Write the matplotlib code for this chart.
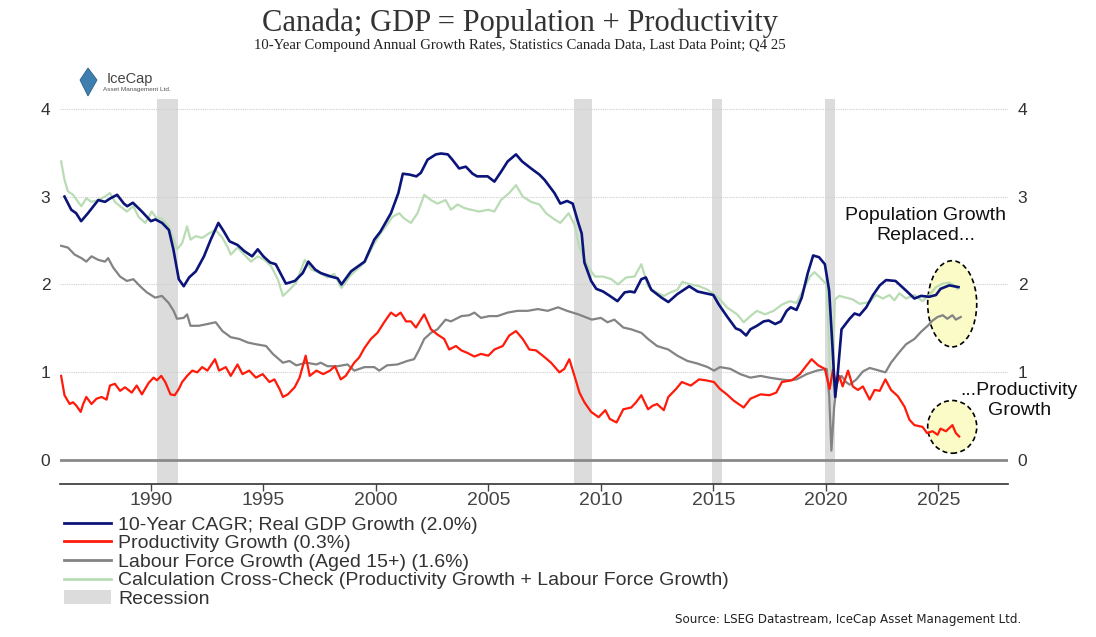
import matplotlib
matplotlib.use("Agg")
import matplotlib.pyplot as plt
from matplotlib.patches import Ellipse, Patch, Polygon
from matplotlib.lines import Line2D

# 10-year CAGR, real GDP growth (%)
gdp_t = [1986.16, 1986.46, 1986.68, 1986.9, 1987.2, 1987.66, 1987.96, 1988.2, 1988.5, 1988.8,
         1988.95, 1989.2, 1989.6, 1990.0, 1990.2, 1990.5, 1990.8, 1991.0, 1991.24, 1991.46,
         1991.7, 1992.0, 1992.36, 1992.66, 1993.0, 1993.25, 1993.5, 1993.85, 1994.15, 1994.5,
         1994.75, 1995.0, 1995.3, 1995.55, 1996.0, 1996.4, 1996.75, 1997.0, 1997.3, 1997.55,
         1998.0, 1998.3, 1998.47, 1998.9, 1999.5, 1999.93, 2000.2, 2000.67, 2001.0, 2001.2,
         2001.5, 2001.8, 2002.0, 2002.3, 2002.67, 2002.9, 2003.2, 2003.4, 2003.7, 2004.0,
         2004.3, 2004.5, 2004.97, 2005.27, 2005.56, 2005.86, 2006.23, 2006.5, 2006.9, 2007.27,
         2007.5, 2007.94, 2008.2, 2008.5, 2008.75, 2009.0, 2009.15, 2009.27, 2009.57, 2009.8,
         2010.1, 2010.4, 2010.74, 2011.06, 2011.3, 2011.5, 2011.8, 2012.0, 2012.24, 2012.7,
         2013.0, 2013.4, 2013.93, 2014.3, 2014.66, 2015.0, 2015.25, 2015.6, 2016.0, 2016.2,
         2016.46, 2016.65, 2016.94, 2017.24, 2017.46, 2017.75, 2018.0, 2018.26, 2018.44, 2018.7,
         2018.93, 2019.2, 2019.44, 2019.7, 2019.96, 2020.15, 2020.3, 2020.42, 2020.52, 2020.7,
         2021.06, 2021.28, 2021.5, 2021.8, 2022.1, 2022.4, 2022.68, 2023.1, 2023.57, 2023.94,
         2024.23, 2024.6, 2024.9, 2025.1, 2025.49, 2025.7, 2025.9]
gdp_v = [3.00, 2.85, 2.81, 2.72, 2.81, 2.96, 2.94, 2.98, 3.02, 2.92,
         2.89, 2.93, 2.83, 2.72, 2.74, 2.70, 2.62, 2.40, 2.06, 1.98,
         2.08, 2.15, 2.32, 2.51, 2.70, 2.60, 2.49, 2.45, 2.38, 2.32,
         2.40, 2.32, 2.25, 2.23, 2.01, 2.04, 2.13, 2.26, 2.17, 2.13,
         2.09, 2.07, 2.00, 2.15, 2.26, 2.51, 2.60, 2.81, 3.04, 3.26,
         3.25, 3.23, 3.27, 3.42, 3.48, 3.49, 3.48, 3.42, 3.32, 3.34,
         3.26, 3.23, 3.23, 3.17, 3.28, 3.40, 3.48, 3.40, 3.32, 3.25,
         3.19, 3.04, 2.92, 2.95, 2.92, 2.70, 2.58, 2.25, 2.04, 1.95,
         1.92, 1.87, 1.81, 1.91, 1.92, 1.91, 2.06, 2.08, 1.94, 1.85,
         1.80, 1.89, 1.98, 1.92, 1.90, 1.88, 1.77, 1.64, 1.50, 1.48,
         1.42, 1.49, 1.53, 1.58, 1.59, 1.55, 1.58, 1.70, 1.74, 1.71,
         1.85, 2.13, 2.33, 2.31, 2.23, 1.93, 1.28, 0.72, 0.95, 1.49,
         1.61, 1.67, 1.65, 1.74, 1.88, 1.99, 2.05, 2.04, 1.93, 1.84,
         1.87, 1.86, 1.88, 1.95, 1.99, 1.98, 1.97]

# productivity growth (%)
prod_t = [1986.01, 1986.16, 1986.39, 1986.54, 1986.69, 1986.88, 1986.99, 1987.13, 1987.36, 1987.58,
          1987.81, 1988.03, 1988.18, 1988.4, 1988.63, 1988.85, 1989.15, 1989.37, 1989.6, 1989.9,
          1990.12, 1990.27, 1990.46, 1990.64, 1990.87, 1991.06, 1991.24, 1991.39, 1991.61, 1991.84,
          1992.06, 1992.28, 1992.51, 1992.85, 1993.03, 1993.33, 1993.55, 1993.85, 1994.07, 1994.37,
          1994.67, 1994.97, 1995.27, 1995.49, 1995.72, 1995.87, 1996.09, 1996.39, 1996.61, 1996.88,
          1997.06, 1997.36, 1997.66, 1997.96, 1998.18, 1998.44, 1998.66, 1999.04, 1999.26, 1999.5,
          1999.78, 2000.07, 2000.37, 2000.67, 2000.89, 2001.1, 2001.34, 2001.56, 2001.78, 2002.15,
          2002.45, 2002.74, 2003.04, 2003.26, 2003.56, 2003.8, 2004.08, 2004.38, 2004.67, 2005.0,
          2005.27, 2005.64, 2005.93, 2006.23, 2006.53, 2006.82, 2007.12, 2007.42, 2007.79, 2008.16,
          2008.38, 2008.6, 2008.83, 2009.05, 2009.27, 2009.57, 2009.9, 2010.2, 2010.4, 2010.7,
          2011.0, 2011.35, 2011.57, 2011.8, 2012.1, 2012.3, 2012.5, 2012.8, 2013.0, 2013.34,
          2013.6, 2014.0, 2014.37, 2014.66, 2015.03, 2015.3, 2015.6, 2015.9, 2016.35, 2016.65,
          2017.1, 2017.5, 2017.8, 2018.05, 2018.5, 2018.85, 2019.15, 2019.37, 2019.66, 2019.96,
          2020.17, 2020.32, 2020.47, 2020.6, 2020.75, 2020.99, 2021.2, 2021.43, 2021.65, 2021.95,
          2022.17, 2022.4, 2022.65, 2022.9, 2023.2, 2023.5, 2023.72, 2023.94, 2024.3, 2024.5,
          2024.75, 2024.97, 2025.1, 2025.34, 2025.63, 2025.78, 2025.93]
prod_v = [0.96, 0.74, 0.64, 0.66, 0.62, 0.55, 0.64, 0.72, 0.64, 0.70,
          0.72, 0.69, 0.85, 0.87, 0.79, 0.83, 0.77, 0.85, 0.75, 0.88,
          0.94, 0.91, 0.96, 0.89, 0.75, 0.74, 0.81, 0.89, 0.96, 1.02,
          1.00, 1.06, 1.02, 1.15, 1.02, 1.06, 0.96, 1.09, 0.98, 1.02,
          0.94, 0.98, 0.89, 0.92, 0.81, 0.72, 0.75, 0.83, 0.94, 1.19,
          0.96, 1.02, 0.98, 1.02, 1.07, 0.92, 0.96, 1.11, 1.17, 1.28,
          1.38, 1.45, 1.57, 1.68, 1.64, 1.68, 1.58, 1.58, 1.51, 1.66,
          1.49, 1.43, 1.38, 1.26, 1.30, 1.25, 1.22, 1.18, 1.21, 1.19,
          1.26, 1.30, 1.42, 1.47, 1.38, 1.26, 1.25, 1.19, 1.11, 1.00,
          1.04, 1.15, 0.96, 0.77, 0.66, 0.55, 0.49, 0.57, 0.47, 0.43,
          0.58, 0.60, 0.66, 0.74, 0.58, 0.62, 0.64, 0.57, 0.72, 0.81,
          0.89, 0.85, 0.92, 0.91, 0.89, 0.81, 0.75, 0.68, 0.60, 0.70,
          0.75, 0.74, 0.77, 0.89, 0.91, 0.98, 1.08, 1.15, 1.08, 1.04,
          0.81, 1.03, 0.84, 0.96, 0.84, 1.02, 0.84, 0.80, 0.84, 0.69,
          0.80, 0.79, 0.92, 0.80, 0.73, 0.61, 0.46, 0.40, 0.38, 0.31,
          0.33, 0.29, 0.36, 0.33, 0.40, 0.31, 0.27]

# labour force growth, aged 15+ (%)
lab_t = [1986.01, 1986.31, 1986.61, 1986.91, 1987.13, 1987.36, 1987.66, 1987.96, 1988.1, 1988.33,
         1988.63, 1988.93, 1989.22, 1989.52, 1989.82, 1990.19, 1990.49, 1990.79, 1991.01, 1991.16,
         1991.46, 1991.61, 1991.76, 1992.13, 1992.51, 1992.88, 1993.18, 1993.55, 1993.93, 1994.3,
         1994.67, 1995.12, 1995.42, 1995.87, 1996.16, 1996.46, 1996.91, 1997.36, 1997.55, 1997.85,
         1998.3, 1998.74, 1999.04, 1999.5, 1999.93, 2000.15, 2000.5, 2000.96, 2001.4, 2001.7,
         2001.93, 2002.15, 2002.45, 2002.74, 2003.1, 2003.34, 2003.8, 2004.15, 2004.38, 2004.67,
         2005.04, 2005.4, 2005.86, 2006.3, 2006.75, 2007.2, 2007.64, 2008.1, 2008.5, 2009.0,
         2009.4, 2009.6, 2010.0, 2010.3, 2010.6, 2011.0, 2011.35, 2011.8, 2012.1, 2012.5,
         2013.0, 2013.4, 2013.85, 2014.3, 2014.75, 2015.03, 2015.3, 2015.76, 2016.2, 2016.65,
         2017.1, 2017.5, 2018.0, 2018.34, 2018.7, 2019.15, 2019.6, 2020.04, 2020.15, 2020.25,
         2020.37, 2020.5, 2020.7, 2020.9, 2021.06, 2021.36, 2021.65, 2021.95, 2022.24, 2022.65,
         2022.9, 2023.27, 2023.57, 2023.94, 2024.23, 2024.53, 2024.75, 2024.97, 2025.2, 2025.4,
         2025.63, 2025.78, 2026.0]
lab_v = [2.44, 2.42, 2.34, 2.30, 2.26, 2.32, 2.28, 2.26, 2.30, 2.19,
         2.09, 2.04, 2.06, 1.98, 1.91, 1.85, 1.87, 1.79, 1.70, 1.61,
         1.62, 1.66, 1.53, 1.53, 1.55, 1.57, 1.47, 1.40, 1.38, 1.34,
         1.32, 1.30, 1.21, 1.11, 1.13, 1.08, 1.11, 1.09, 1.11, 1.07,
         1.07, 1.09, 1.02, 1.06, 1.06, 1.02, 1.08, 1.09, 1.13, 1.15,
         1.26, 1.38, 1.45, 1.49, 1.60, 1.58, 1.64, 1.65, 1.68, 1.62,
         1.64, 1.64, 1.68, 1.70, 1.70, 1.72, 1.70, 1.74, 1.70, 1.66,
         1.62, 1.60, 1.62, 1.57, 1.60, 1.51, 1.49, 1.45, 1.38, 1.30,
         1.26, 1.19, 1.13, 1.10, 1.06, 1.02, 1.06, 1.04, 0.98, 0.94,
         0.96, 0.94, 0.92, 0.91, 0.92, 0.98, 1.02, 1.04, 0.74, 0.11,
         0.60, 0.90, 0.96, 0.89, 0.86, 0.92, 1.01, 1.05, 1.03, 1.00,
         1.11, 1.23, 1.32, 1.38, 1.46, 1.53, 1.59, 1.63, 1.65, 1.61,
         1.65, 1.60, 1.63]

# cross-check: productivity growth + labour force growth (%)
chk_t = [1986.01, 1986.16, 1986.31, 1986.54, 1986.76, 1986.91, 1987.13, 1987.36, 1987.66, 1987.96,
         1988.18, 1988.4, 1988.63, 1988.93, 1989.22, 1989.45, 1989.75, 1990.04, 1990.27, 1990.49,
         1990.79, 1991.01, 1991.16, 1991.39, 1991.61, 1991.76, 1991.99, 1992.28, 1992.58, 1992.88,
         1993.18, 1993.4, 1993.55, 1993.85, 1994.15, 1994.45, 1994.75, 1995.04, 1995.34, 1995.64,
         1995.87, 1996.16, 1996.46, 1996.84, 1997.13, 1997.51, 1997.85, 1998.15, 1998.47, 1998.9,
         1999.5, 1999.85, 2000.2, 2000.5, 2000.74, 2001.04, 2001.26, 2001.56, 2001.85, 2002.15,
         2002.45, 2002.74, 2003.1, 2003.34, 2003.63, 2003.93, 2004.23, 2004.6, 2005.0, 2005.27,
         2005.56, 2005.93, 2006.23, 2006.53, 2006.9, 2007.27, 2007.57, 2007.94, 2008.2, 2008.57,
         2008.83, 2009.05, 2009.35, 2009.45, 2009.74, 2010.1, 2010.47, 2010.76, 2011.13, 2011.5,
         2011.8, 2012.1, 2012.4, 2012.8, 2013.1, 2013.4, 2013.63, 2014.0, 2014.37, 2014.75,
         2015.03, 2015.3, 2015.6, 2016.06, 2016.35, 2016.65, 2016.94, 2017.3, 2017.68, 2018.05,
         2018.4, 2018.7, 2019.0, 2019.3, 2019.5, 2019.74, 2020.04, 2020.17, 2020.3, 2020.4,
         2020.6, 2020.9, 2021.2, 2021.5, 2021.95, 2022.24, 2022.54, 2022.83, 2023.05, 2023.27,
         2023.57, 2023.94, 2024.3, 2024.6, 2024.9, 2025.2, 2025.49, 2025.7, 2025.85]
chk_v = [3.40, 3.19, 3.06, 3.02, 2.94, 2.89, 2.98, 2.94, 2.96, 3.00,
         3.04, 2.94, 2.89, 2.83, 2.89, 2.77, 2.70, 2.83, 2.75, 2.75,
         2.66, 2.51, 2.40, 2.47, 2.66, 2.51, 2.55, 2.53, 2.58, 2.62,
         2.53, 2.43, 2.34, 2.42, 2.34, 2.26, 2.32, 2.28, 2.21, 2.06,
         1.87, 1.94, 2.02, 2.28, 2.17, 2.13, 2.08, 2.12, 1.96, 2.11,
         2.25, 2.43, 2.58, 2.68, 2.77, 2.81, 2.75, 2.70, 2.81, 3.02,
         2.96, 2.92, 2.96, 2.85, 2.91, 2.87, 2.85, 2.83, 2.85, 2.83,
         2.96, 3.04, 3.13, 3.00, 2.94, 2.91, 2.81, 2.74, 2.70, 2.81,
         2.68, 2.42, 2.25, 2.19, 2.09, 2.09, 2.06, 2.00, 2.08, 2.09,
         2.23, 1.98, 1.92, 1.87, 1.91, 1.94, 2.03, 2.00, 1.98, 1.94,
         1.89, 1.83, 1.74, 1.66, 1.57, 1.64, 1.70, 1.66, 1.70, 1.77,
         1.81, 1.79, 1.94, 2.09, 2.14, 2.08, 2.00, 1.11, 0.85, 1.83,
         1.87, 1.85, 1.83, 1.78, 1.80, 1.88, 1.84, 1.88, 1.82, 1.90,
         1.84, 1.88, 1.81, 1.88, 1.97, 2.01, 2.02, 1.99, 1.95]

# recessions (start, end)
recessions = [(1990.25, 1991.2), (2008.8, 2009.6), (2014.95, 2015.4), (2019.95, 2020.4)]

labels = ["10-Year CAGR; Real GDP Growth (2.0%)",
          "Productivity Growth (0.3%)",
          "Labour Force Growth (Aged 15+) (1.6%)",
          "Calculation Cross-Check (Productivity Growth + Labour Force Growth)",
          "Recession"]

navy = "#0b1478"
red = "#ff1a0a"
grey = "#838383"
green = "#b9dcb4"
rec_col = "#dcdcdc"
txt = "#333333"

fig = plt.figure(figsize=(10.96, 6.37), dpi=100)
ax = fig.add_axes([60 / 1096, 1 - 484 / 637, 948 / 1096, 385 / 637])

for a, b in recessions:
    ax.axvspan(a, b, color=rec_col, lw=0, zorder=0)

for yv in [1, 2, 3, 4]:
    ax.axhline(yv, color="#cfcfcf", lw=0.8, ls=(0, (1, 1)), zorder=0.5)
ax.axhline(0, color="#8a8a8a", lw=2, zorder=0.6)

# highlight circles
ax.add_patch(Ellipse((2025.62, 1.78), 2.18, 0.98, facecolor="#fbfbc8", edgecolor="black",
                     ls=(0, (3, 2)), lw=1.2, zorder=1))
ax.add_patch(Ellipse((2025.62, 0.38), 2.18, 0.60, facecolor="#fbfbc8", edgecolor="black",
                     ls=(0, (3, 2)), lw=1.2, zorder=1))

ax.plot(chk_t, chk_v, color=green, lw=1.6, zorder=2)
ax.plot(lab_t, lab_v, color=grey, lw=1.6, zorder=3)
ax.plot(prod_t, prod_v, color=red, lw=1.6, zorder=4)
ax.plot(gdp_t, gdp_v, color=navy, lw=1.9, zorder=5)

ax.set_xlim(1985.96, 2028.1)
ax.set_ylim(-0.27, 4.11)
ax.set_xticks([1990, 1995, 2000, 2005, 2010, 2015, 2020, 2025])
ax.set_yticks([0, 1, 2, 3, 4])
ax.tick_params(axis="x", length=5, width=1, color="#444444", labelsize=14, labelcolor="#444444", pad=1)
ax.tick_params(axis="y", length=0, labelsize=12.5, labelcolor=txt, pad=7,
               left=True, right=True, labelleft=True, labelright=True)
for lab in ax.get_xticklabels() + ax.get_yticklabels():
    lab.set_family("Liberation Sans")
for s in ["left", "right", "top"]:
    ax.spines[s].set_visible(False)
ax.spines["bottom"].set_color("#333333")
ax.spines["bottom"].set_linewidth(1.2)

# annotations
ax.text(2024.44, 2.67, "Population Growth\nReplaced...", ha="center", va="center",
        fontsize=14, family="Liberation Sans", color="#111111", linespacing=1.2)
ax.text(2028.6, 0.68, "...Productivity\nGrowth", ha="center", va="center",
        fontsize=14, family="Liberation Sans", color="#111111", linespacing=1.2, clip_on=False)

# titles
fig.text(0.4745, 1 - 23 / 637, "Canada; GDP = Population + Productivity", ha="center", va="center",
         fontsize=22, family="Liberation Serif", color=txt)
fig.text(0.4745, 1 - 46 / 637,
         "10-Year Compound Annual Growth Rates, Statistics Canada Data, Last Data Point; Q4 25",
         ha="center", va="center", fontsize=10.6, family="Liberation Serif", color="#222222")

# logo
fig.add_artist(Polygon([[88 / 1096, 1 - 68 / 637], [97 / 1096, 1 - 80 / 637],
                        [88 / 1096, 1 - 96 / 637], [80 / 1096, 1 - 80 / 637]],
                       closed=True, transform=fig.transFigure, facecolor="#3f7fb0",
                       edgecolor="#2b5f8a", lw=0.6))
fig.text(107 / 1096, 1 - 79 / 637, "IceCap", fontsize=10.5, family="Liberation Sans",
         color="#444444", va="center")
fig.text(103 / 1096, 1 - 89 / 637, "Asset Management Ltd.", fontsize=4.6, family="Liberation Sans",
         color="#555555", va="center")

# legend
handles = [Line2D([], [], color=navy, lw=2),
           Line2D([], [], color=red, lw=2),
           Line2D([], [], color=grey, lw=2),
           Line2D([], [], color=green, lw=2),
           Patch(facecolor=rec_col, edgecolor="none")]
leg = fig.legend(handles, labels, loc="upper left", bbox_to_anchor=(64 / 1096, 1 - 516 / 637),
                 frameon=False, handlelength=2.4, handletextpad=0.4, labelspacing=0.05,
                 prop={"family": "Liberation Sans", "size": 14}, borderpad=0, borderaxespad=0)
for t in leg.get_texts():
    t.set_color(txt)

fig.text(1021 / 1096, 1 - 620 / 637, "Source: LSEG Datastream, IceCap Asset Management Ltd.",
         ha="right", va="center", fontsize=8.6, family="DejaVu Sans", color="#222222")

fig.savefig("out.png", dpi=100)
